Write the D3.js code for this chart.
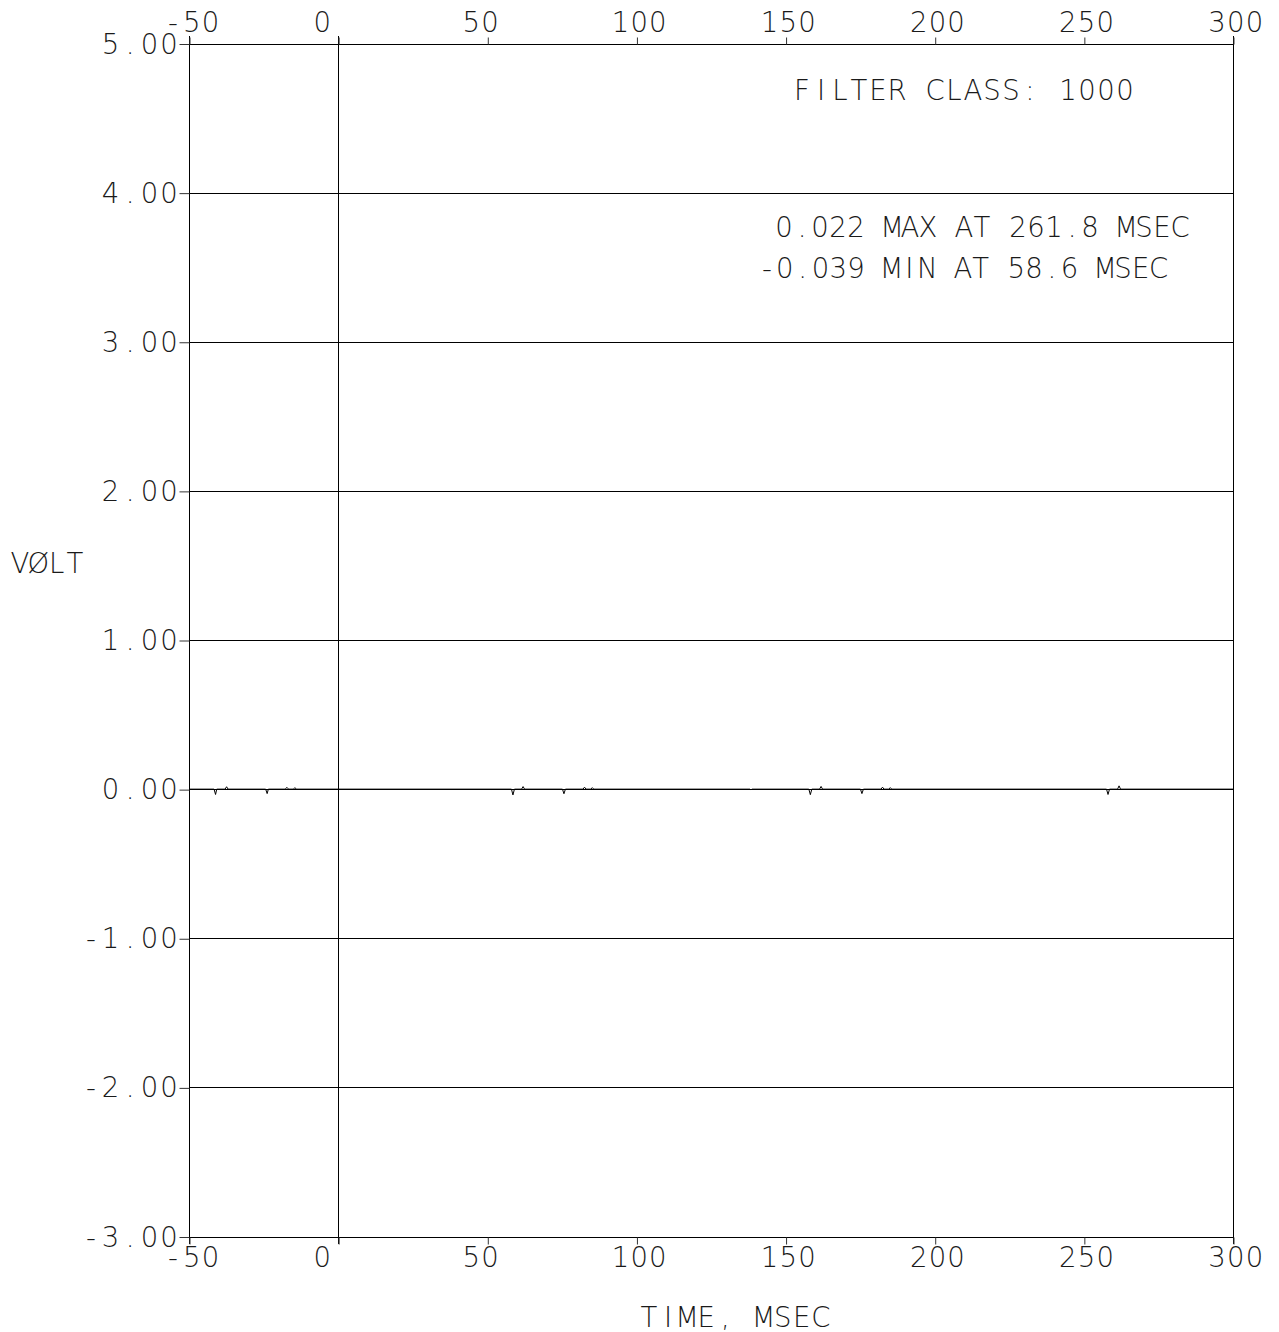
<!DOCTYPE html>
<html><head><meta charset="utf-8">
<script src="https://cdn.jsdelivr.net/npm/d3@7"></script>
<style>
html,body{margin:0;padding:0;background:#fff;}
svg{display:block;}
text{font-family:"DejaVu Sans","DejaVu Sans Mono",sans-serif;font-weight:200;font-size:27.5px;fill:#1a1a1a;}
</style></head>
<body>
<svg id="chart" width="1279" height="1332"></svg>
<script>
// ---- data ----
const timeTicks = [-50, 0, 50, 100, 150, 200, 250, 300];
const timeTickLabels = ["-50", "0", "50", "100", "150", "200", "250", "300"];
const voltTicks = [5, 4, 3, 2, 1, 0, -1, -2, -3];
const voltTickLabels = ["5.00", "4.00", "3.00", "2.00", "1.00", "0.00", "-1.00", "-2.00", "-3.00"];
const timeMs = [-50, -41.6, -41.1, -40.7, -37.9, -37.4, -36.9, -24.3, -23.8, -23.4, -17.7, -17.2, -16.6, -15.0, -14.5, -14.0,
  58.1, 58.6, 59.1, 61.5, 62.0, 62.5, 75.2, 75.7, 76.2, 82.1, 82.6, 83.1, 84.7, 85.2, 85.7,
  138.0, 138.4, 138.8,
  157.8, 158.3, 158.8, 161.4, 161.9, 162.4, 175.1, 175.6, 176.1, 182.0, 182.5, 183.0, 184.6, 185.1, 185.6,
  257.6, 258.1, 258.6, 261.3, 261.8, 262.3, 300];
const volts = [0, 0, -0.036, 0, 0, 0.016, 0, 0, -0.030, 0, 0, 0.012, 0, 0, 0.010, 0,
  0, -0.039, 0, 0, 0.017, 0, 0, -0.031, 0, 0, 0.013, 0, 0, 0.010, 0,
  0, -0.004, 0,
  0, -0.037, 0, 0, 0.018, 0, 0, -0.030, 0, 0, 0.013, 0, 0, 0.010, 0,
  0, -0.036, 0, 0, 0.022, 0, 0];
const filterText = "FILTER CLASS: 1000";
const maxText = "0.022 MAX AT 261.8 MSEC";
const minText = "-0.039 MIN AT 58.6 MSEC";
const yTitle = "VØLT";
const xTitle = "TIME, MSEC";

// ---- layout ----
const L = 189, R = 1233, T = 43.5, B = 1236.5;
const svg = d3.select("#chart");
const x = d3.scaleLinear().domain([-50, 300]).range([L, R]);
const y = d3.scaleLinear().domain([-3, 5]).range([B, T]);

// monospaced text helper: each char centered in its own cell
function mono(g, str, cx0, baseline, pitch) {
  const xs = Array.from(str).map((c, i) => (cx0 + i * pitch).toFixed(2)).join(" ");
  return g.append("text").attr("x", xs).attr("y", baseline)
    .attr("text-anchor", "middle").text(str);
}

const px = v => Math.round(v) + 0.5;

// horizontal gridlines
svg.append("g").selectAll("line").data(voltTicks).join("line")
  .attr("x1", L).attr("x2", R)
  .attr("y1", d => px(y(d))).attr("y2", d => px(y(d)))
  .attr("stroke", "#000").attr("stroke-width", 1);

// vertical lines: left border, zero line, right border
svg.append("g").selectAll("line").data([-50, 0, 300]).join("line")
  .attr("x1", d => px(x(d))).attr("x2", d => px(x(d)))
  .attr("y1", 36).attr("y2", 1244)
  .attr("stroke", "#000").attr("stroke-width", 1);

// axes ticks
const topAxis = d3.axisTop(x).tickValues(timeTicks).tickSize(7).tickSizeOuter(0).tickFormat("");
const botAxis = d3.axisBottom(x).tickValues(timeTicks).tickSize(7).tickSizeOuter(0).tickFormat("");
const leftAxis = d3.axisLeft(y).tickValues(voltTicks).tickSize(10).tickSizeOuter(0).tickFormat("");
svg.append("g").attr("transform", `translate(0.5,${px(T)})`).call(topAxis);
svg.append("g").attr("transform", `translate(0.5,${px(B)})`).call(botAxis);
svg.append("g").attr("transform", `translate(${px(L)},0.5)`).call(leftAxis);
svg.selectAll(".domain").remove();
svg.selectAll(".tick line").attr("stroke", "#333");

// tick labels
const lab = svg.append("g");
const P = 18.7;
timeTicks.forEach((t, i) => {
  const cx0 = x(t) - 16;
  mono(lab, timeTickLabels[i], cx0, 32, P);
  mono(lab, timeTickLabels[i], cx0, 1267, P);
});
const PY = 19.5;
voltTicks.forEach((v, i) => {
  const s = voltTickLabels[i];
  const cx0 = 169 - (s.length - 1) * PY;
  mono(lab, s, cx0, y(v) + 10, PY);
});

// data line
const line = d3.line().x((d, i) => x(timeMs[i])).y((d, i) => y(volts[i]));
svg.append("path").datum(volts).attr("d", line)
  .attr("fill", "none").attr("stroke", "#000").attr("stroke-width", 1);

// annotations
mono(lab, filterText, 802, 100, 19);
mono(lab, maxText, 784, 237, 18);
mono(lab, minText, 767, 278, 17.8);
mono(lab, yTitle, 20, 573, 18.3);
mono(lab, xTitle, 649, 1327, 19.1);
</script>
</body></html>
